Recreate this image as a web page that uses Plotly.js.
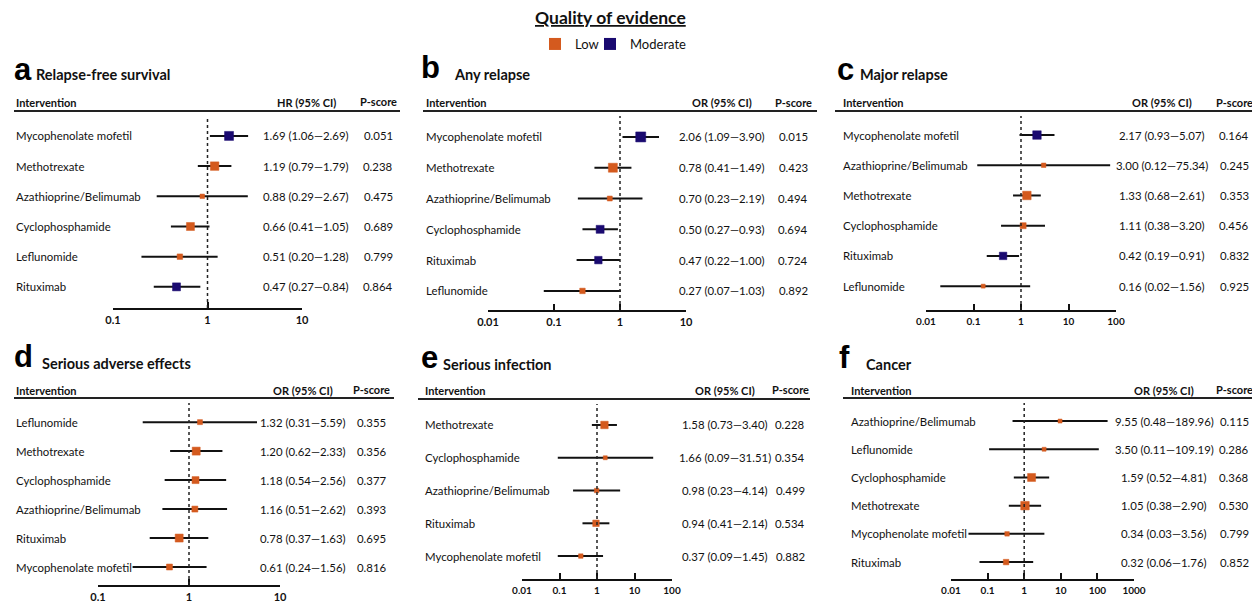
<!DOCTYPE html>
<html><head><meta charset="utf-8">
<script src="https://cdn.plot.ly/plotly-3.0.1.min.js"></script>
<style>body{margin:0;background:#fff}#chart{width:1252px;height:602px}</style>
</head><body><div id="chart"></div>
<script>
// ---------- DATA ----------
const aTitle = "Relapse-free survival", aMeasure = "HR (95% CI)";
const aNames = ["Mycophenolate mofetil","Methotrexate","Azathioprine/Belimumab","Cyclophosphamide","Leflunomide","Rituximab"];
const aEst = [1.69,1.19,0.88,0.66,0.51,0.47];
const aLo  = [1.06,0.79,0.29,0.41,0.20,0.27];
const aHi  = [2.69,1.79,2.67,1.05,1.28,0.84];
const aP   = [0.051,0.238,0.475,0.689,0.799,0.864];
const aQual= ["Moderate","Low","Low","Low","Low","Moderate"];
const aWeight = [9,8.5,4.5,8,5.5,8];

const bTitle = "Any relapse", bMeasure = "OR (95% CI)";
const bNames = ["Mycophenolate mofetil","Methotrexate","Azathioprine/Belimumab","Cyclophosphamide","Rituximab","Leflunomide"];
const bEst = [2.06,0.78,0.70,0.50,0.47,0.27];
const bLo  = [1.09,0.41,0.23,0.27,0.22,0.07];
const bHi  = [3.90,1.49,2.19,0.93,1.00,1.03];
const bP   = [0.015,0.423,0.494,0.694,0.724,0.892];
const bQual= ["Moderate","Low","Low","Moderate","Moderate","Low"];
const bWeight = [10,9,5,8,7.5,5.5];

const cTitle = "Major relapse", cMeasure = "OR (95% CI)";
const cNames = ["Mycophenolate mofetil","Azathioprine/Belimumab","Methotrexate","Cyclophosphamide","Rituximab","Leflunomide"];
const cEst = [2.17,3.00,1.33,1.11,0.42,0.16];
const cLo  = [0.93,0.12,0.68,0.38,0.19,0.02];
const cHi  = [5.07,75.34,2.61,3.20,0.91,1.56];
const cP   = [0.164,0.245,0.353,0.456,0.832,0.925];
const cQual= ["Moderate","Low","Low","Low","Moderate","Low"];
const cWeight = [8.5,4.5,8.5,6,7.5,4];

const dTitle = "Serious adverse effects", dMeasure = "OR (95% CI)";
const dNames = ["Leflunomide","Methotrexate","Cyclophosphamide","Azathioprine/Belimumab","Rituximab","Mycophenolate mofetil"];
const dEst = [1.32,1.20,1.18,1.16,0.78,0.61];
const dLo  = [0.31,0.62,0.54,0.51,0.37,0.24];
const dHi  = [5.59,2.33,2.56,2.62,1.63,1.56];
const dP   = [0.355,0.356,0.377,0.393,0.695,0.816];
const dQual= ["Low","Low","Low","Low","Low","Low"];
const dWeight = [5,8,7,6,8,6];

const eTitle = "Serious infection", eMeasure = "OR (95% CI)";
const eNames = ["Methotrexate","Cyclophosphamide","Azathioprine/Belimumab","Rituximab","Mycophenolate mofetil"];
const eEst = [1.58,1.66,0.98,0.94,0.37];
const eLo  = [0.73,0.09,0.23,0.41,0.09];
const eHi  = [3.40,31.51,4.14,2.14,1.45];
const eP   = [0.228,0.354,0.499,0.534,0.882];
const eQual= ["Low","Low","Low","Low","Low"];
const eWeight = [7.5,4,4.5,6.5,4.5];

const fTitle = "Cancer", fMeasure = "OR (95% CI)";
const fNames = ["Azathioprine/Belimumab","Leflunomide","Cyclophosphamide","Methotrexate","Mycophenolate mofetil","Rituximab"];
const fEst = [9.55,3.50,1.59,1.05,0.34,0.32];
const fLo  = [0.48,0.11,0.52,0.38,0.03,0.06];
const fHi  = [189.96,109.19,4.81,2.90,3.56,1.76];
const fP   = [0.115,0.286,0.368,0.530,0.799,0.852];
const fQual= ["Low","Low","Low","Low","Low","Low"];
const fWeight = [4,4,8,8.5,4.5,5.5];

const qualityLevels = ["Low","Moderate"];
const legendTitle = "Quality of evidence";

// ---------- STYLE / LAYOUT GEOMETRY ----------
const W = 1252, H = 602;
const qColor = {Low:"#d45a1e", Moderate:"#1a0a70"};
const FONT = "Lato, 'Open Sans', sans-serif";
const px = v => v / W, py = v => 1 - v / H;

const panels = [
 {id:"a", title:aTitle, m:aMeasure, names:aNames, est:aEst, lo:aLo, hi:aHi, p:aP, q:aQual, w:aWeight,
  g:{x0:113,x1:302,y0:116,y1:308,xr:[-1,1],yr:[5.7,-0.66],tv:[0.1,1,10],nx:14,cx:306,pxp:378,hy:102,ly:111,lx:[14,400],lt:[12,70],tt:[34,75]}},
 {id:"b", title:bTitle, m:bMeasure, names:bNames, est:bEst, lo:bLo, hi:bHi, p:bP, q:bQual, w:bWeight,
  g:{x0:488,x1:686,y0:116,y1:310,xr:[-2,1],yr:[5.62,-0.68],tv:[0.01,0.1,1,10],nx:424,cx:722,pxp:793,hy:103,ly:111,lx:[423,817],lt:[419,67],tt:[452,75]}},
 {id:"c", title:cTitle, m:cMeasure, names:cNames, est:cEst, lo:cLo, hi:cHi, p:cP, q:cQual, w:cWeight,
  g:{x0:926,x1:1116,y0:116,y1:310,xr:[-2,2],yr:[5.79,-0.63],tv:[0.01,0.1,1,10,100],nx:841,cx:1162,pxp:1234,hy:103,ly:111,lx:[835,1252],lt:[835,70],tt:[858,75]}},
 {id:"d", title:dTitle, m:dMeasure, names:dNames, est:dEst, lo:dLo, hi:dHi, p:dP, q:dQual, w:dWeight,
  g:{x0:98,x1:280,y0:403,y1:585,xr:[-1,1],yr:[5.62,-0.66],tv:[0.1,1,10],nx:14,cx:303,pxp:372,hy:390,ly:398,lx:[14,394],lt:[12,356],tt:[40,363]}},
 {id:"e", title:eTitle, m:eMeasure, names:eNames, est:eEst, lo:eLo, hi:eHi, p:eP, q:eQual, w:eWeight,
  g:{x0:522,x1:672,y0:404,y1:579,xr:[-2,2],yr:[4.7,-0.64],tv:[0.01,0.1,1,10,100],nx:423,cx:725,pxp:790,hy:390,ly:399,lx:[418,810],lt:[419,357],tt:[441,364]}},
 {id:"f", title:fTitle, m:fMeasure, names:fNames, est:fEst, lo:fLo, hi:fHi, p:fP, q:fQual, w:fWeight,
  g:{x0:951,x1:1134,y0:403,y1:579,xr:[-2,3],yr:[5.6,-0.64],tv:[0.01,0.1,1,10,100,1000],nx:849,cx:1164,pxp:1234,hy:390,ly:398,lx:[843,1252],lt:[837,357],tt:[864,364]}}
];

const fmt2 = v => v.toFixed(2);
const traces = [], annotations = [], shapes = [];
const legendBase = {orientation:"h", yanchor:"middle", xanchor:"left", font:{size:13, family:FONT, color:"#111"},
                    itemwidth:30, bgcolor:"rgba(0,0,0,0)", borderwidth:0};
const layout = {
  width:W, height:H, margin:{l:0,r:0,t:0,b:0},
  paper_bgcolor:"#fff", plot_bgcolor:"rgba(0,0,0,0)",
  font:{family:FONT, color:"#111"},
  showlegend:true,
  legend: Object.assign({}, legendBase, {x:px(535), y:py(44)}),
  legend2: Object.assign({}, legendBase, {x:px(590), y:py(44)}),
  annotations, shapes
};

const TXT = 11.4;
panels.forEach((P, i) => {
  const k = i === 0 ? "" : String(i + 1);
  const g = P.g;
  const idx = P.names.map((_, j) => j);
  traces.push({
    type:"scatter", mode:"markers", xaxis:"x"+k, yaxis:"y"+k, showlegend:false,
    x:P.est, y:idx, text:P.names, hoverinfo:"text+x",
    marker:{symbol:"square", size:P.w, opacity:1, color:P.q.map(q => qColor[q]),
            line:{width:0.5, color:P.q.map(q => qColor[q])}},
    error_x:{type:"data", symmetric:false,
             array:P.est.map((e, j) => P.hi[j] - e),
             arrayminus:P.est.map((e, j) => e - P.lo[j]),
             color:"#111", thickness:2, width:0}
  });
  layout["xaxis"+k] = {
    type:"log", domain:[px(g.x0), px(g.x1)], range:g.xr, anchor:"y"+k,
    tickvals:g.tv, ticktext:g.tv.map(String), ticks:"inside", ticklen:6, tickwidth:2, tickcolor:"#111",
    showline:true, linewidth:2, linecolor:"#111", showgrid:false, zeroline:false,
    tickfont:{size: g.tv.length > 4 ? 10 : 11, family:FONT, weight:"bold", color:"#111"}, ticklabelstandoff:1
  };
  layout["yaxis"+k] = {
    domain:[py(g.y1), py(g.y0)], range:g.yr, anchor:"x"+k,
    showticklabels:false, showgrid:false, zeroline:false, showline:false, ticks:""
  };
  shapes.push({type:"line", xref:"x"+k, yref:"y"+k+" domain", x0:1, x1:1, y0:0, y1:1,
               line:{color:"#222", width:1.5, dash:"dot"}});
  shapes.push({type:"line", xref:"paper", yref:"paper", x0:px(g.lx[0]), x1:px(g.lx[1]), y0:py(g.ly), y1:py(g.ly),
               line:{color:"#222", width:2}});
  annotations.push({xref:"paper", yref:"paper", x:px(g.lt[0]), y:py(g.lt[1]), xanchor:"left", yanchor:"middle",
    text:"<b>"+P.id+"</b>", showarrow:false, font:{size:31, family:"'Liberation Sans', Arial, sans-serif", color:"#000"}});
  annotations.push({xref:"paper", yref:"paper", x:px(g.tt[0]), y:py(g.tt[1]), xanchor:"left", yanchor:"middle",
    text:"<b>"+P.title+"</b>", showarrow:false, font:{size:14.5, family:FONT, color:"#111"}});
  annotations.push({xref:"paper", yref:"paper", x:px(g.nx), y:py(g.hy), xanchor:"left", yanchor:"middle",
    text:"<b>Intervention</b>", showarrow:false, font:{size:11, family:FONT, color:"#111"}});
  annotations.push({xref:"paper", yref:"paper", x:px(g.cx), y:py(g.hy), xanchor:"center", yanchor:"middle",
    text:"<b>"+P.m+"</b>", showarrow:false, font:{size:11, family:FONT, color:"#111"}});
  annotations.push({xref:"paper", yref:"paper", x:px(g.pxp), y:py(g.hy - 1), xanchor:"center", yanchor:"middle",
    text:"<b>P-score</b>", showarrow:false, font:{size:11, family:FONT, color:"#111"}});
  P.names.forEach((n, j) => {
    annotations.push({xref:"paper", yref:"y"+k, x:px(g.nx), y:j, xanchor:"left", yanchor:"middle",
      text:n, showarrow:false, font:{size:TXT, family:FONT, color:"#111"}});
    annotations.push({xref:"paper", yref:"y"+k, x:px(g.cx), y:j, xanchor:"center", yanchor:"middle",
      text:fmt2(P.est[j])+" ("+fmt2(P.lo[j])+"\u2014"+fmt2(P.hi[j])+")", showarrow:false,
      font:{size:TXT, family:FONT, color:"#111"}});
    annotations.push({xref:"paper", yref:"y"+k, x:px(g.pxp), y:j, xanchor:"center", yanchor:"middle",
      text:P.p[j].toFixed(3), showarrow:false, font:{size:TXT, family:FONT, color:"#111"}});
  });
});

// legend entries (one legend box per quality level)
qualityLevels.forEach((q, i) => {
  traces.push({type:"scatter", mode:"markers", x:[null], y:[null], xaxis:"x", yaxis:"y", name:q,
    legend: i === 0 ? "legend" : "legend2",
    marker:{symbol:"square", size:12, opacity:1, color:qColor[q]}, showlegend:true, hoverinfo:"skip"});
});
annotations.push({xref:"paper", yref:"paper", x:px(610), y:py(18), xanchor:"center", yanchor:"middle",
  text:"<b><u>"+legendTitle+"</u></b>", showarrow:false, font:{size:17.5, family:FONT, color:"#111"}});

Plotly.newPlot("chart", traces, layout, {staticPlot:true, displayModeBar:false});
</script>
</body></html>
